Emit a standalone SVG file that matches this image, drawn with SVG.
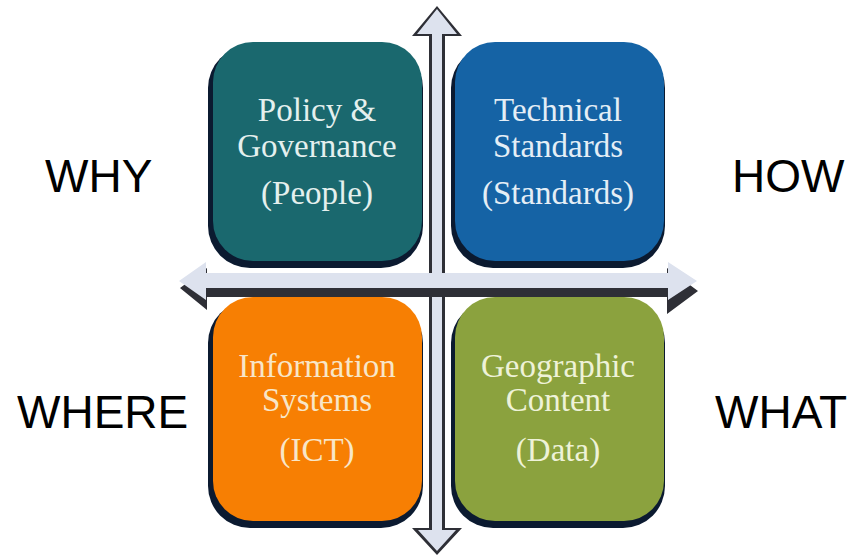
<svg xmlns="http://www.w3.org/2000/svg" width="852" height="556" viewBox="0 0 852 556">
<style>
.lbl{font-family:"Liberation Sans",Arial,sans-serif;font-size:46px;fill:#000}
.bt{font-family:"Liberation Serif","Times New Roman",serif;font-size:33px;text-anchor:middle}
.sh{fill:#0b1a30}
.arrL{fill:#dde2ee}
.arrD{fill:#2e2f36}
</style>
<rect width="852" height="556" fill="#fff"/>
<g id="connectors">
  <g id="v-arrow">
    <polygon class="arrD" points="437,6 462,36 445,36 445,528 462,528 437,555 412,528 429,528 429,36 412,36"/>
    <polygon class="arrL" points="437,9 457,34 442,34 442,530 456,530 437,551 418,530 432,530 432,34 417,34"/>
  </g>
  <g id="h-arrow">
    <polygon class="arrD" points="180,288 207,268 207,281 667,281 667,268 698,291 667,314 667,297 207,297 207,310"/>
    <polygon class="arrL" points="179,281 206,262 206,273 668,273 668,262 697,281 668,300 668,288 206,288 206,300"/>
  </g>
</g>
<g id="node-policy">
  <rect class="sh" x="208" y="46" width="215" height="222" rx="42"/>
  <rect x="213" y="42" width="209" height="219" rx="40" fill="#1a686e"/>
  <text class="bt" fill="#e4f0ee"><tspan x="317" y="121">Policy &amp;</tspan><tspan x="317" y="157">Governance</tspan><tspan x="317" y="204">(People)</tspan></text>
</g>
<g id="node-technical">
  <rect class="sh" x="451" y="46" width="214" height="222" rx="42"/>
  <rect x="455" y="42" width="209" height="219" rx="40" fill="#1563a5"/>
  <text class="bt" fill="#e4eef6"><tspan x="558" y="121">Technical</tspan><tspan x="558" y="157">Standards</tspan><tspan x="558" y="204">(Standards)</tspan></text>
</g>
<g id="node-info">
  <rect class="sh" x="208" y="301" width="215" height="227" rx="42"/>
  <rect x="213" y="297" width="209" height="224" rx="40" fill="#f77f03"/>
  <text class="bt" fill="#f8e6c8"><tspan x="317" y="377">Information</tspan><tspan x="317" y="411">Systems</tspan><tspan x="317" y="461">(ICT)</tspan></text>
</g>
<g id="node-geo">
  <rect class="sh" x="451" y="301" width="214" height="227" rx="42"/>
  <rect x="455" y="297" width="209" height="224" rx="40" fill="#8ba23e"/>
  <text class="bt" fill="#eef2d8"><tspan x="558" y="377">Geographic</tspan><tspan x="558" y="411">Content</tspan><tspan x="558" y="461">(Data)</tspan></text>
</g>
<g id="labels">
  <text class="lbl" x="45" y="192">WHY</text>
  <text class="lbl" x="732" y="192">HOW</text>
  <text class="lbl" x="17" y="428">WHERE</text>
  <text class="lbl" x="715" y="428">WHAT</text>
</g>
</svg>
